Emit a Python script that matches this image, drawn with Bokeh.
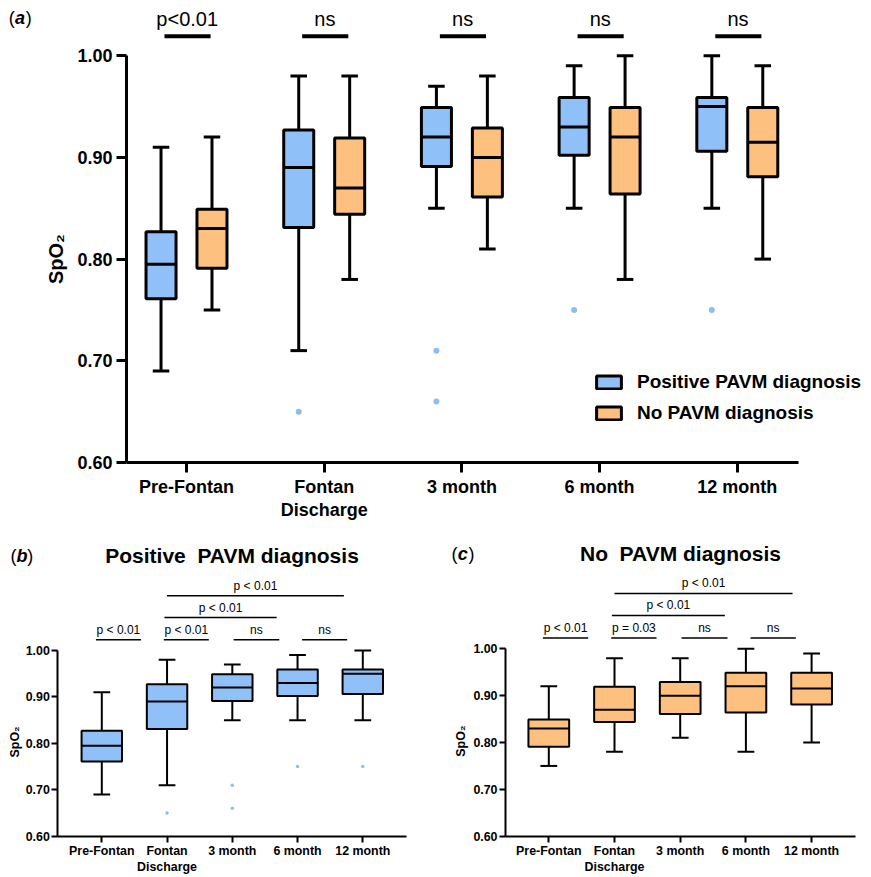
import math
from bokeh.plotting import figure
from bokeh.layouts import column, row
from bokeh.models import (ColumnDataSource, FixedTicker, PrintfTickFormatter, Label,
                          Legend, LegendItem)
from bokeh.embed import file_html
from bokeh.resources import INLINE
from bokeh.core.properties import value

# ---------------- data ----------------
categories = ["Pre-Fontan", "Fontan\nDischarge", "3 month", "6 month", "12 month"]

# Positive PAVM diagnosis
pos_low = [0.69, 0.71, 0.85, 0.85, 0.85]
pos_q1 = [0.761, 0.831, 0.891, 0.902, 0.906]
pos_med = [0.795, 0.89, 0.92, 0.93, 0.95]
pos_q3 = [0.827, 0.927, 0.949, 0.959, 0.959]
pos_high = [0.91, 0.98, 0.97, 0.99, 1.00]
pos_out_cat = [1, 2, 2, 3, 4]
pos_out_val = [0.65, 0.71, 0.66, 0.75, 0.75]

# No PAVM diagnosis
neg_low = [0.75, 0.78, 0.81, 0.78, 0.80]
neg_q1 = [0.791, 0.844, 0.861, 0.864, 0.881]
neg_med = [0.83, 0.87, 0.90, 0.92, 0.915]
neg_q3 = [0.849, 0.919, 0.929, 0.949, 0.949]
neg_high = [0.92, 0.98, 0.98, 1.00, 0.99]

# between-group comparison at each time point (panel a)
group_p_labels = ["p<0.01", "ns", "ns", "ns", "ns"]

# within-group comparisons (panels b, c)
pos_pair_labels = ["p < 0.01", "p < 0.01", "ns", "ns", "p < 0.01", "p < 0.01"]
neg_pair_labels = ["p < 0.01", "p = 0.03", "ns", "ns", "p < 0.01", "p < 0.01"]

y_ticks = [0.6, 0.7, 0.8, 0.9, 1.0]

# ---------------- layout / style ----------------
BLUE = "#90c0f8"
ORANGE = "#fdc07f"
DOT = "#8dbdf5"
FONT = "Liberation Sans"

# bracket geometry for panels b / c (data units)
pair_x0 = [-0.09, 0.95, 2.02, 3.07, 0.96, 1.00]
pair_x1 = [0.60, 1.64, 2.72, 3.76, 2.68, 3.71]
pair_y = [1.023, 1.023, 1.023, 1.023, 1.071, 1.118]

idx = list(range(len(categories)))


def make_fig(width, height, xr, yr):
    p = figure(width=width, height=height, x_range=xr, y_range=yr,
               output_backend="svg", toolbar_location=None,
               min_border_left=0, min_border_right=0, min_border_top=0, min_border_bottom=0)
    p.xgrid.visible = False
    p.ygrid.visible = False
    p.outline_line_color = None
    p.background_fill_color = "white"
    p.border_fill_color = "white"
    return p


def style_axes(p, x_lo, x_hi, tick_size, lw, tick_out, label_standoff):
    p.xaxis.ticker = FixedTicker(ticks=idx)
    p.xaxis.major_label_overrides = {i: c for i, c in enumerate(categories)}
    p.xaxis.fixed_location = y_ticks[0]
    p.xaxis.bounds = (x_lo, x_hi)
    p.yaxis.ticker = FixedTicker(ticks=y_ticks)
    p.yaxis.formatter = PrintfTickFormatter(format="%.2f")
    p.yaxis.fixed_location = x_lo
    p.yaxis.bounds = (y_ticks[0], y_ticks[-1])
    for ax in (p.xaxis, p.yaxis):
        ax.axis_line_width = lw
        ax.axis_line_color = "black"
        ax.major_tick_line_width = lw
        ax.major_tick_line_color = "black"
        ax.major_tick_out = tick_out
        ax.major_tick_in = 0
        ax.minor_tick_line_color = None
        ax.major_label_text_font = FONT
        ax.major_label_text_font_style = "bold"
        ax.major_label_text_font_size = f"{tick_size}px"
        ax.major_label_text_color = "black"
        ax.major_label_standoff = label_standoff
    p.xaxis.major_label_text_line_height = 1.15


def draw_boxes(p, xs, low, q1, med, q3, high, color, box_w, cap_w, lw):
    src = ColumnDataSource(dict(
        x=xs, low=low, q1=q1, med=med, q3=q3, high=high,
        bx0=[x - box_w / 2 for x in xs], bx1=[x + box_w / 2 for x in xs],
        cx0=[x - cap_w / 2 for x in xs], cx1=[x + cap_w / 2 for x in xs],
    ))
    p.segment(x0="x", y0="q3", x1="x", y1="high", line_width=lw, line_color="black", source=src)
    p.segment(x0="x", y0="q1", x1="x", y1="low", line_width=lw, line_color="black", source=src)
    p.segment(x0="cx0", y0="high", x1="cx1", y1="high", line_width=lw, line_color="black", source=src)
    p.segment(x0="cx0", y0="low", x1="cx1", y1="low", line_width=lw, line_color="black", source=src)
    r = p.vbar(x="x", width=box_w, bottom="q1", top="q3", fill_color=color,
               line_color="black", line_width=lw, source=src)
    p.segment(x0="bx0", y0="med", x1="bx1", y1="med", line_width=lw, line_color="black", source=src)
    return r


def panel_tag(p, letter, x, y, size):
    p.add_layout(Label(x=x, y=y, text="(", text_font=FONT, text_font_size=f"{size}px",
                       text_color="black", text_baseline="middle"))
    p.add_layout(Label(x=x, y=y, x_offset=size * 0.34, text=letter, text_font=FONT,
                       text_font_size=f"{size}px", text_font_style="bold italic",
                       text_color="black", text_baseline="middle"))
    p.add_layout(Label(x=x, y=y, x_offset=size * 0.34 + size * 0.6, text=")", text_font=FONT,
                       text_font_size=f"{size}px", text_color="black",
                       text_baseline="middle"))


def y_title(p, x, y, size):
    p.add_layout(Label(x=x, y=y, text="SpO₂", angle=math.pi / 2, text_font=FONT,
                       text_font_size=f"{size}px", text_font_style="bold", text_color="black",
                       text_align="center", text_baseline="middle"))


# ---------------- panel (a) ----------------
pa = make_fig(871, 520, (-1.3508, 4.9746), (0.54297, 1.05428))
style_axes(pa, -0.436, 4.444, tick_size=18, lw=3, tick_out=10, label_standoff=4)
y_title(pa, -0.95, 0.80, 20)

off = 0.185
rb = draw_boxes(pa, [i - off for i in idx], pos_low, pos_q1, pos_med, pos_q3, pos_high,
                BLUE, 0.218, 0.12, 3)
ro = draw_boxes(pa, [i + off for i in idx], neg_low, neg_q1, neg_med, neg_q3, neg_high,
                ORANGE, 0.218, 0.12, 3)
pa.scatter(x=[c - off for c in pos_out_cat], y=pos_out_val, size=6, color=DOT, line_color=None)

sig_a = ColumnDataSource(dict(x0=[i - 0.16 for i in idx], x1=[i + 0.175 for i in idx],
                              y=[1.0192] * len(idx), tx=[i + 0.005 for i in idx],
                              ty=[1.0192 + 0.0171] * len(idx), label=group_p_labels))
pa.segment(x0="x0", y0="y", x1="x1", y1="y", line_width=4, line_color="black", source=sig_a)
pa.text(x="tx", y="ty", text="label", text_font=value(FONT), text_font_size=value("20px"),
        text_align="center", text_baseline="middle", text_color="black", source=sig_a)

panel_tag(pa, "a", -1.29, 1.0366, 18)

legend = Legend(items=[LegendItem(label="Positive PAVM diagnosis", renderers=[rb]),
                       LegendItem(label="No PAVM diagnosis", renderers=[ro])],
                location=(593, 96), glyph_width=31, glyph_height=16,
                label_text_font=FONT, label_text_font_size="19px", label_text_font_style="bold",
                label_text_color="black",
                label_standoff=13, spacing=9, padding=0, margin=0, label_height=22,
                border_line_color=None, background_fill_alpha=0)
pa.add_layout(legend)


# ---------------- panels (b) and (c) ----------------
def small_panel(width, xr, yr, x_lo, x_hi, low, q1, med, q3, high, color, labels,
                title, letter, tag_x, title_y, ytitle_x, out_cat=None, out_val=None):
    p = make_fig(width, 357, xr, yr)
    style_axes(p, x_lo, x_hi, tick_size=12.4, lw=2, tick_out=6, label_standoff=2)
    y_title(p, ytitle_x, 0.803, 12.5)
    draw_boxes(p, idx, low, q1, med, q3, high, color, 0.62, 0.256, 2)
    if out_cat is not None:
        p.scatter(x=out_cat, y=out_val, size=3.5, color=DOT, line_color=None)
    src = ColumnDataSource(dict(x0=pair_x0, x1=pair_x1, y=pair_y,
                                tx=[(a + b) / 2 for a, b in zip(pair_x0, pair_x1)],
                                ty=[y + 0.0215 for y in pair_y], label=labels))
    p.segment(x0="x0", y0="y", x1="x1", y1="y", line_width=1.5, line_color="black", source=src)
    p.text(x="tx", y="ty", text="label", text_font=value(FONT), text_font_size=value("12px"),
           text_align="center", text_baseline="middle", text_color="black", source=src)
    p.add_layout(Label(x=(x_lo + x_hi) / 2, y=title_y, text=title, text_font=FONT,
                       text_font_size="21px", text_font_style="bold", text_align="center",
                       text_color="black", text_baseline="middle"))
    panel_tag(p, letter, tag_x, title_y, 18)
    return p


pb = small_panel(435, (-1.5525, 5.1142), (0.51105, 1.27995), -0.674, 4.665,
                 pos_low, pos_q1, pos_med, pos_q3, pos_high, BLUE, pos_pair_labels,
                 "Positive\u00a0 PAVM diagnosis", "b", -1.40, 1.2035, -1.335,
                 out_cat=pos_out_cat, out_val=pos_out_val)
pc = small_panel(436, (-1.7245, 4.9117), (0.51185, 1.27385), -0.659, 4.668,
                 neg_low, neg_q1, neg_med, neg_q3, neg_high, ORANGE, neg_pair_labels,
                 "No\u00a0 PAVM diagnosis", "c", -1.48, 1.2028, -1.332)

layout = column(pa, row(pb, pc))
open("out.html", "w").write(file_html(layout, INLINE))
